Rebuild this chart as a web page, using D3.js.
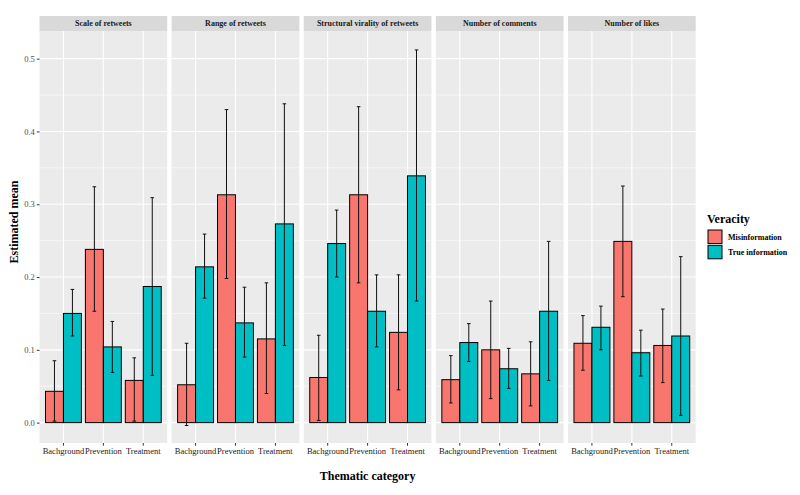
<!DOCTYPE html>
<html>
<head>
<meta charset="utf-8">
<script src="https://cdn.jsdelivr.net/npm/d3@7"></script>
<style>
  body { margin: 0; background: #fff; }
  svg { display: block; }
  text { font-family: "Liberation Serif", "Times New Roman", serif; }
</style>
</head>
<body>
<svg id="chart" width="800" height="495"></svg>
<script>
// ---------- data ----------
const facets = ["Scale of retweets", "Range of retweets", "Structural virality of retweets", "Number of comments", "Number of likes"];
const categories = ["Bachground", "Prevention", "Treatment"];
const veracity = ["Misinformation", "True information"];
const colors = ["#F8766D", "#00BFC4"];
const yTicks = [0, 0.1, 0.2, 0.3, 0.4, 0.5];
const yMinor = [0.05, 0.15, 0.25, 0.35, 0.45];
const yDomain = [-0.028, 0.538];

// means per facet: [Bg Mis, Bg True, Prev Mis, Prev True, Treat Mis, Treat True]
const meanScale     = [0.043, 0.150, 0.238, 0.104, 0.058, 0.187];
const meanRange     = [0.052, 0.214, 0.313, 0.137, 0.115, 0.273];
const meanVirality  = [0.062, 0.246, 0.313, 0.153, 0.124, 0.339];
const meanComments  = [0.059, 0.110, 0.100, 0.074, 0.067, 0.153];
const meanLikes     = [0.109, 0.131, 0.249, 0.096, 0.106, 0.119];

const lowScale      = [0.002, 0.119, 0.153, 0.069, 0.002, 0.065];
const lowRange      = [-0.004, 0.171, 0.198, 0.090, 0.040, 0.106];
const lowVirality   = [0.003, 0.200, 0.192, 0.104, 0.045, 0.167];
const lowComments   = [0.027, 0.084, 0.033, 0.047, 0.023, 0.058];
const lowLikes      = [0.072, 0.100, 0.173, 0.064, 0.055, 0.010];

const highScale     = [0.085, 0.183, 0.324, 0.139, 0.089, 0.309];
const highRange     = [0.109, 0.259, 0.430, 0.186, 0.192, 0.438];
const highVirality  = [0.120, 0.292, 0.434, 0.203, 0.203, 0.512];
const highComments  = [0.092, 0.136, 0.167, 0.102, 0.111, 0.249];
const highLikes     = [0.147, 0.160, 0.325, 0.127, 0.156, 0.228];

const means = [meanScale, meanRange, meanVirality, meanComments, meanLikes];
const lows  = [lowScale, lowRange, lowVirality, lowComments, lowLikes];
const highs = [highScale, highRange, highVirality, highComments, highLikes];

// ---------- layout ----------
const svg = d3.select("#chart");
const plotLeft = 39.5, plotRight = 695.7, panelTop = 31, panelBottom = 443, stripTop = 16;
const gap = 4.4;
const panelW = (plotRight - plotLeft - gap * (facets.length - 1)) / facets.length;

const y = d3.scaleLinear().domain(yDomain).range([panelBottom, panelTop]);
const xFacet = d3.scaleBand().domain(facets).range([plotLeft, plotRight + gap]).paddingInner(0).paddingOuter(0);
const xCat = d3.scaleBand().domain(categories).range([0, panelW]).paddingInner(0.1).paddingOuter(0.15);
const xVer = d3.scaleBand().domain(veracity).range([0, xCat.bandwidth()]).padding(0);
const color = d3.scaleOrdinal().domain(veracity).range(colors);

facets.forEach((f, fi) => {
  const x0 = xFacet(f);
  const g = svg.append("g").attr("transform", `translate(${x0},0)`);
  // panel background
  g.append("rect").attr("x", 0).attr("y", panelTop).attr("width", panelW).attr("height", panelBottom - panelTop).attr("fill", "#EBEBEB");
  // strip
  g.append("rect").attr("x", 0).attr("y", stripTop).attr("width", panelW).attr("height", panelTop - stripTop).attr("fill", "#D9D9D9");
  g.append("text").attr("x", panelW / 2).attr("y", (stripTop + panelTop) / 2 + 2.8)
    .attr("text-anchor", "middle").attr("font-size", 8).attr("font-weight", "bold").attr("fill", "#1A1A1A").text(f);
  // grid
  g.selectAll(".minor").data(yMinor).enter().append("line")
    .attr("x1", 0).attr("x2", panelW).attr("y1", d => y(d)).attr("y2", d => y(d))
    .attr("stroke", "#fff").attr("stroke-width", 0.55);
  g.selectAll(".major").data(yTicks).enter().append("line")
    .attr("x1", 0).attr("x2", panelW).attr("y1", d => y(d)).attr("y2", d => y(d))
    .attr("stroke", "#fff").attr("stroke-width", 1.1);
  g.selectAll(".vgrid").data(categories).enter().append("line")
    .attr("x1", d => xCat(d) + xCat.bandwidth() / 2).attr("x2", d => xCat(d) + xCat.bandwidth() / 2)
    .attr("y1", panelTop).attr("y2", panelBottom)
    .attr("stroke", "#fff").attr("stroke-width", 1.1);

  // data rows
  const rows = [];
  categories.forEach((c, ci) => veracity.forEach((v, vi) => {
    const k = ci * 2 + vi;
    rows.push({ c, v, m: means[fi][k], lo: lows[fi][k], hi: highs[fi][k] });
  }));
  // bars
  g.selectAll(".bar").data(rows).enter().append("rect")
    .attr("x", d => xCat(d.c) + xVer(d.v))
    .attr("width", xVer.bandwidth())
    .attr("y", d => y(d.m))
    .attr("height", d => y(0) - y(d.m))
    .attr("fill", d => color(d.v))
    .attr("stroke", "#000").attr("stroke-width", 1);
  // error bars
  const cap = 1.8;
  const eb = g.selectAll(".eb").data(rows).enter().append("g")
    .attr("transform", d => `translate(${xCat(d.c) + xVer(d.v) + xVer.bandwidth() / 2},0)`);
  eb.append("line").attr("x1", 0).attr("x2", 0).attr("y1", d => y(d.lo)).attr("y2", d => y(d.hi))
    .attr("stroke", "#111").attr("stroke-width", 1);
  eb.append("line").attr("x1", -cap).attr("x2", cap).attr("y1", d => y(d.hi)).attr("y2", d => y(d.hi))
    .attr("stroke", "#111").attr("stroke-width", 1);
  eb.append("line").attr("x1", -cap).attr("x2", cap).attr("y1", d => y(d.lo)).attr("y2", d => y(d.lo))
    .attr("stroke", "#111").attr("stroke-width", 1);

  // x axis
  const xa = g.append("g").attr("transform", `translate(0,${panelBottom})`)
    .call(d3.axisBottom(xCat).tickSize(2.7).tickSizeOuter(0).tickPadding(2));
  xa.select(".domain").remove();
  xa.selectAll("line").attr("stroke", "#333");
  xa.selectAll("text").attr("font-size", 8.5).attr("fill", "#1A1A1A")
    .attr("font-family", "Liberation Serif, serif");
});

// y axis
const ya = svg.append("g").attr("transform", `translate(${plotLeft},0)`)
  .call(d3.axisLeft(y).tickValues(yTicks).tickFormat(d3.format(".1f")).tickSize(2.7).tickPadding(2));
ya.select(".domain").remove();
ya.selectAll("line").attr("stroke", "#333");
ya.selectAll("text").attr("font-size", 8.5).attr("fill", "#4D4D4D")
  .attr("font-family", "Liberation Serif, serif");

// axis titles
svg.append("text").attr("x", (plotLeft + plotRight) / 2).attr("y", 480)
  .attr("text-anchor", "middle").attr("font-size", 12).attr("font-weight", "bold").attr("fill", "#000")
  .text("Thematic category");
svg.append("text").attr("transform", `translate(18,222) rotate(-90)`)
  .attr("text-anchor", "middle").attr("font-size", 12).attr("font-weight", "bold").attr("fill", "#000")
  .text("Estimated mean");

// legend
const lg = svg.append("g").attr("transform", "translate(707,0)");
lg.append("text").attr("x", 0).attr("y", 223).attr("font-size", 12).attr("font-weight", "bold").text("Veracity");
veracity.forEach((v, i) => {
  lg.append("rect").attr("x", 1).attr("y", 230 + i * 15.3).attr("width", 14).attr("height", 13.5)
    .attr("fill", color(v)).attr("stroke", "#000").attr("stroke-width", 1);
  lg.append("text").attr("x", 21).attr("y", 240 + i * 15.3).attr("font-size", 8).attr("font-weight", "bold").text(v);
});
</script>
</body>
</html>
